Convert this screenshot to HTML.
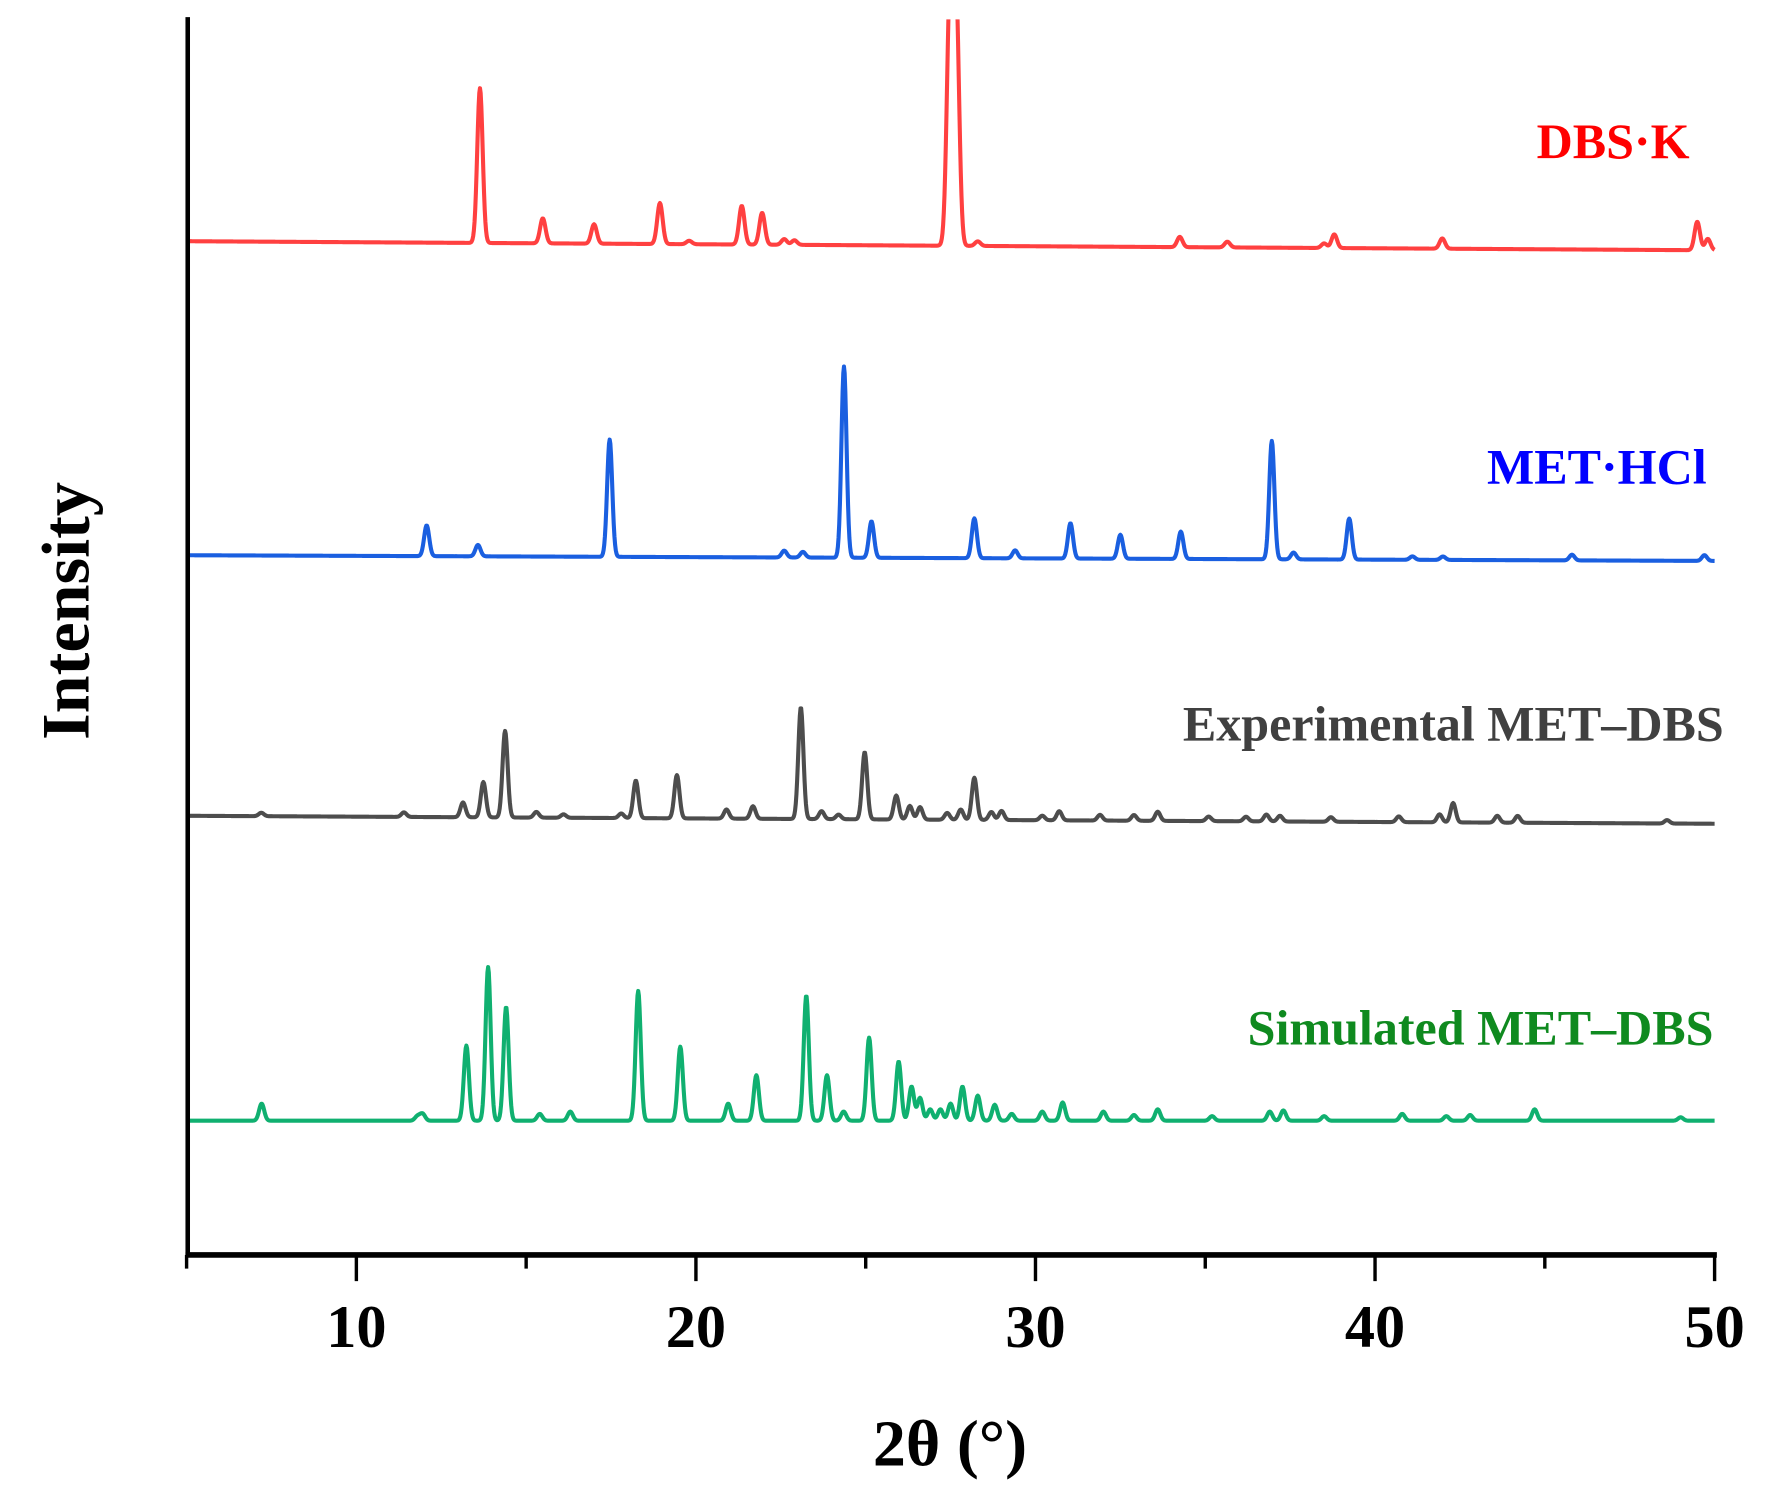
<!DOCTYPE html>
<html><head><meta charset="utf-8"><style>
html,body{margin:0;padding:0;background:#fff;}
svg{display:block;}
text{font-family:"Liberation Serif",serif;font-weight:bold;}
</style></head><body>
<svg id="chart" width="1784" height="1503" viewBox="0 0 1568 1321" preserveAspectRatio="none" xmlns="http://www.w3.org/2000/svg">
<defs><clipPath id="plotclip"><rect x="166" y="17" width="1345" height="1084"/></clipPath></defs>
<g id="series" clip-path="url(#plotclip)"></g>
<line x1="165" y1="15" x2="165" y2="1105" stroke="#000" stroke-width="4"/>
<line x1="163" y1="1103" x2="1509" y2="1103" stroke="#000" stroke-width="5"/>
<g id="ticks"></g>
<text x="835" y="1288" font-size="58" text-anchor="middle">2θ (°)</text>
<text transform="translate(78,537) rotate(-90)" font-size="60" text-anchor="middle">Intensity</text>
<text x="1485" y="139" font-size="44" text-anchor="end" fill="#ff0000">DBS·K</text>
<text x="1500" y="425" font-size="44" text-anchor="end" fill="#0000ff">MET·HCl</text>
<text x="1515" y="651" font-size="44" text-anchor="end" fill="#404040">Experimental MET–DBS</text>
<text x="1506" y="918" font-size="44" text-anchor="end" fill="#0f8a1f">Simulated MET–DBS</text>
</svg>
<script>
const xTicks = [10, 20, 30, 40, 50];
const xMinor = [5, 15, 25, 35, 45];
const redPos = [13.64,15.49,17.0,18.94,19.8,21.35,21.95,22.6,22.9,27.48,27.66,28.3,34.25,35.65,38.5,38.8,41.98,49.49,49.8];
const redH   = [136,22,17,36,3,34,28,5,4,215,215,4,9,5,4,12,9,25,10];
const redBase = [212, 220];
const bluePos = [12.07,13.58,17.46,22.6,23.15,24.36,25.17,28.2,29.4,31.03,32.5,34.28,36.96,37.6,39.24,41.1,42.0,45.8,49.7];
const blueH   = [27,10,103,6,5,168,32,35,7,31,21,24,104,6,36,3,3,5,5];
const blueBase = [488, 493];
const grayPos = [7.2,11.4,13.14,13.74,14.38,15.3,16.1,17.8,18.23,19.44,20.9,21.68,23.09,23.7,24.2,24.97,25.9,26.3,26.6,27.4,27.8,28.2,28.7,29.0,30.2,30.7,31.9,32.9,33.6,35.1,36.2,36.8,37.2,38.7,40.7,41.9,42.3,43.6,44.2,48.6];
const grayH   = [3,4,13,31,76,5,3,4,33,38,8,11,98,7,4,59,21,12,11,6,9,37,7,8,4,8,5,5,8,4,4,6,5,4,5,7,17,6,6,3];
const grayBase = [717, 724];
const greenPos = [7.21,11.8,11.95,13.24,13.88,14.41,15.4,16.3,18.3,19.54,20.95,21.78,23.25,23.86,24.35,25.1,25.97,26.35,26.6,26.9,27.2,27.5,27.85,28.3,28.8,29.3,30.2,30.8,32.0,32.9,33.6,35.2,36.9,37.3,38.5,40.8,42.1,42.8,44.7,49.0];
const greenH   = [15,4,6,66,135,100,6,8,114,65,15,40,110,40,8,73,52,30,20,10,10,15,30,22,14,6,8,16,8,5,10,4,8,9,4,6,4,5,10,3];
const greenBase = [985, 985];

const X0 = 5, X1 = 50, PX0 = 164, PX1 = 1507;
function xScale(v){ return PX0 + (v - X0) * (PX1 - PX0) / (X1 - X0); }
const NS = "http://www.w3.org/2000/svg";
const sg = document.getElementById('series');
function drawSeries(pos, h, base, color, sigma, name){
  let d = "";
  for (let t = X0; t <= X1 + 1e-9; t += 0.02){
    let y = base[0] + (base[1] - base[0]) * (t - X0) / (X1 - X0);
    for (let i = 0; i < pos.length; i++){
      const s = (pos[i] > 27 && pos[i] < 28 && name === 'series-dbs-k') ? 0.09 : sigma;
      const z = (t - pos[i]) / s;
      if (Math.abs(z) < 6) y -= h[i] * Math.exp(-0.5 * z * z);
    }
    d += (d ? "L" : "M") + xScale(t).toFixed(2) + " " + y.toFixed(2);
  }
  const p = document.createElementNS(NS, 'path');
  p.setAttribute('d', d);
  p.setAttribute('fill', 'none');
  p.setAttribute('stroke', color);
  p.setAttribute('stroke-width', '3.6');
  p.setAttribute('stroke-linejoin', 'round');
  
  
  sg.appendChild(p);
}
drawSeries(redPos, redH, redBase, '#ff4040', 0.08, 'series-dbs-k');
drawSeries(bluePos, blueH, blueBase, '#1a5fe0', 0.075, 'series-met-hcl');
drawSeries(grayPos, grayH, grayBase, '#4d4d4d', 0.075, 'series-experimental-met-dbs');
drawSeries(greenPos, greenH, greenBase, '#10b070', 0.075, 'series-simulated-met-dbs');

const tg = document.getElementById('ticks');
xTicks.forEach(v => {
  const l = document.createElementNS(NS, 'line');
  l.setAttribute('x1', xScale(v)); l.setAttribute('x2', xScale(v));
  l.setAttribute('y1', 1103); l.setAttribute('y2', 1126);
  l.setAttribute('stroke', '#000'); l.setAttribute('stroke-width', '3');
  
  
  tg.appendChild(l);
  const t = document.createElementNS(NS, 'text');
  t.setAttribute('x', xScale(v)); t.setAttribute('y', 1184);
  t.setAttribute('font-size', '53'); t.setAttribute('text-anchor', 'middle');
  t.textContent = v;
  
  
  tg.appendChild(t);
});
xMinor.forEach(v => {
  const l = document.createElementNS(NS, 'line');
  l.setAttribute('x1', xScale(v)); l.setAttribute('x2', xScale(v));
  l.setAttribute('y1', 1103); l.setAttribute('y2', 1115);
  l.setAttribute('stroke', '#000'); l.setAttribute('stroke-width', '3');
  
  
  tg.appendChild(l);
});
</script>
</body></html>
